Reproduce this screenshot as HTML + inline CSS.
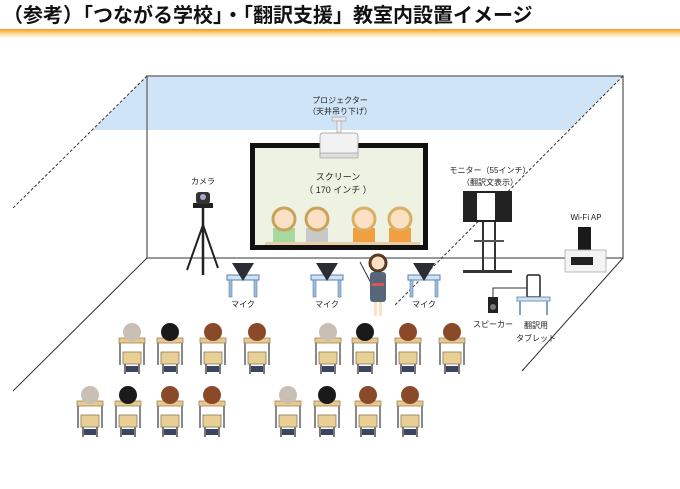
<!DOCTYPE html>
<html><head><meta charset="utf-8"><style>
html,body{margin:0;padding:0;background:#fff;}
body{width:680px;height:489px;overflow:hidden;position:relative;font-family:"Liberation Sans","Noto Sans CJK JP",sans-serif;}
</style></head><body>
<svg width="680" height="489" viewBox="0 0 680 489" xmlns="http://www.w3.org/2000/svg" style="position:absolute;left:0;top:0">
<defs>
<linearGradient id="og" x1="0" y1="0" x2="0" y2="1">
<stop offset="0" stop-color="#f39a1d"/><stop offset="0.35" stop-color="#f8c870"/><stop offset="1" stop-color="#fff"/>
</linearGradient>
<g id="st">
  <!-- chair back -->
  <rect x="-9" y="22" width="18" height="12" fill="#e8cf95" stroke="#8a7a5a" stroke-width="0.8"/>
  <rect x="-8" y="34" width="2" height="10" fill="#777"/><rect x="6" y="34" width="2" height="10" fill="#777"/>
  <!-- desk -->
  <rect x="-13" y="8" width="26" height="5" fill="#e9c98b" stroke="#9a8460" stroke-width="0.8"/>
  <rect x="-13" y="13" width="2" height="22" fill="#888"/><rect x="11" y="13" width="2" height="22" fill="#888"/>
  <rect x="-6" y="36" width="12" height="6" fill="#3a4660"/>
</g>
<g id="mdesk">
  <rect x="-16" y="0" width="32" height="5" fill="#cfe3f4" stroke="#5a7fa8" stroke-width="1"/>
  <rect x="-14" y="5" width="3" height="17" fill="#9bbde0" stroke="#5a7fa8" stroke-width="0.6"/>
  <rect x="11" y="5" width="3" height="17" fill="#9bbde0" stroke="#5a7fa8" stroke-width="0.6"/>
  <polygon points="-11,-12 11,-12 0,6" fill="#2a2d33"/>
</g>
</defs>

<!-- title -->
<text x="3" y="22" font-size="20" font-weight="bold" fill="#111">（参考）「つながる学校」・「翻訳支援」教室内設置イメージ</text>
<rect x="0" y="29" width="680" height="9" fill="url(#og)"/>

<!-- ceiling blue -->
<polygon points="147,76 623,76 623,76 569,130 93,130" fill="#cfe4f7"/>
<!-- back wall -->
<rect x="147" y="76" width="476" height="182" fill="none" stroke="#777" stroke-width="1.5"/>
<line x1="147" y1="130" x2="623" y2="130" stroke="#cfe4f7" stroke-width="0"/>
<!-- perspective lines -->
<line x1="147" y1="76" x2="12" y2="209" stroke="#333" stroke-width="1" stroke-dasharray="3,2"/>
<line x1="147" y1="258" x2="13" y2="391" stroke="#333" stroke-width="1"/>
<line x1="623" y1="76" x2="395" y2="305" stroke="#333" stroke-width="1" stroke-dasharray="3,2"/>
<line x1="623" y1="258" x2="522" y2="371" stroke="#333" stroke-width="1"/>

<!-- projector -->
<text x="340" y="103" font-size="8" text-anchor="middle" fill="#222">プロジェクター</text>
<text x="340" y="114" font-size="8" text-anchor="middle" fill="#222">（天井吊り下げ）</text>
<rect x="332" y="117" width="14" height="4" fill="#e8e8e8" stroke="#999" stroke-width="0.6"/>
<rect x="337" y="121" width="4" height="12" fill="#eee" stroke="#999" stroke-width="0.6"/>

<!-- screen -->
<rect x="250" y="143" width="178" height="107" fill="#111"/>
<rect x="255" y="148" width="168" height="97" fill="#eef2e3"/>
<rect x="320" y="133" width="38" height="24" rx="3" fill="#f2f2f2" stroke="#999" stroke-width="0.8"/>
<rect x="320" y="153" width="38" height="5" fill="#ddd" stroke="#999" stroke-width="0.6"/>
<text x="338" y="180" font-size="9" text-anchor="middle" fill="#222">スクリーン</text>
<text x="338" y="193" font-size="9" text-anchor="middle" fill="#222">（ 170 インチ ）</text>
<!-- kids on screen -->
<g>
  <rect x="273" y="228" width="22" height="14" fill="#a8d8a0"/><circle cx="284" cy="219" r="11" fill="#fbe0c6" stroke="#c9a35a" stroke-width="3"/>
  <rect x="306" y="228" width="22" height="14" fill="#c8c8c8"/><circle cx="317" cy="219" r="11" fill="#fbe0c6" stroke="#c9a35a" stroke-width="3"/>
  <rect x="353" y="228" width="22" height="14" fill="#f0a040"/><circle cx="364" cy="219" r="11" fill="#fbe0c6" stroke="#d8b060" stroke-width="3"/>
  <rect x="389" y="228" width="22" height="14" fill="#f0a040"/><circle cx="400" cy="219" r="11" fill="#fbe0c6" stroke="#d8b060" stroke-width="3"/>
  <rect x="265" y="242" width="155" height="3" fill="#e6cfa8"/>
</g>

<!-- camera -->
<text x="203" y="184" font-size="8" text-anchor="middle" fill="#222">カメラ</text>
<rect x="193" y="203" width="20" height="5" fill="#222"/>
<rect x="196" y="192" width="14" height="12" rx="3" fill="#333"/><circle cx="203" cy="197" r="3" fill="#aac"/>
<line x1="203" y1="208" x2="203" y2="275" stroke="#222" stroke-width="2.5"/>
<line x1="203" y1="225" x2="187" y2="270" stroke="#222" stroke-width="2"/>
<line x1="203" y1="225" x2="218" y2="268" stroke="#222" stroke-width="2"/>

<!-- mics -->
<use href="#mdesk" x="243" y="275"/><use href="#mdesk" x="327" y="275"/><use href="#mdesk" x="424" y="275"/>
<text x="243" y="307" font-size="8" text-anchor="middle" fill="#222">マイク</text>
<text x="327" y="307" font-size="8" text-anchor="middle" fill="#222">マイク</text>
<text x="424" y="307" font-size="8" text-anchor="middle" fill="#222">マイク</text>

<!-- teacher -->
<line x1="360" y1="262" x2="372" y2="285" stroke="#333" stroke-width="1"/>
<circle cx="378" cy="263" r="8" fill="#fbe0c6" stroke="#5a3a20" stroke-width="3"/>
<rect x="370" y="272" width="16" height="30" rx="3" fill="#55667a"/>
<rect x="372" y="283" width="12" height="3" fill="#d55"/>
<rect x="374" y="302" width="3" height="14" fill="#fbe0c6"/><rect x="379" y="302" width="3" height="14" fill="#fbe0c6"/>

<!-- monitor -->
<text x="490" y="173" font-size="8" text-anchor="middle" fill="#222">モニター（55インチ）</text>
<text x="490" y="185" font-size="8" text-anchor="middle" fill="#222">（翻訳文表示）</text>
<rect x="463" y="191" width="49" height="31" fill="#222"/>
<rect x="477" y="193" width="18" height="27" fill="#fff"/>
<rect x="482" y="222" width="2" height="50" fill="#333"/><rect x="494" y="222" width="2" height="50" fill="#333"/>
<rect x="474" y="240" width="30" height="2" fill="#555"/>
<rect x="463" y="270" width="49" height="3" fill="#333"/>

<!-- wifi -->
<text x="586" y="220" font-size="8" text-anchor="middle" fill="#222">Wi-Fi AP</text>
<rect x="578" y="227" width="13" height="23" fill="#1a1a1a"/>
<rect x="565" y="250" width="41" height="22" fill="#f4f4f4" stroke="#aaa" stroke-width="0.8"/>
<rect x="571" y="257" width="22" height="8" fill="#222"/>

<!-- speaker & tablet -->
<polyline points="493,297 493,288 528,288" fill="none" stroke="#333" stroke-width="1"/>
<rect x="488" y="297" width="10" height="16" fill="#222"/><circle cx="493" cy="307" r="3" fill="#777"/>
<rect x="527" y="275" width="13" height="22" rx="1.5" fill="#fff" stroke="#222" stroke-width="1.5"/>
<rect x="517" y="297" width="33" height="4" fill="#cfe3f4" stroke="#5a7fa8" stroke-width="0.8"/>
<rect x="519" y="301" width="2" height="14" fill="#7fa3c8"/><rect x="546" y="301" width="2" height="14" fill="#7fa3c8"/>
<text x="493" y="327" font-size="8" text-anchor="middle" fill="#222">スピーカー</text>
<text x="536" y="328" font-size="8" text-anchor="middle" fill="#222">翻訳用</text>
<text x="536" y="341" font-size="8" text-anchor="middle" fill="#222">タブレット</text>

<!-- students -->
<g id="row1">
<use href="#st" x="132" y="330"/><use href="#st" x="170" y="330"/><use href="#st" x="213" y="330"/><use href="#st" x="257" y="330"/>
<use href="#st" x="328" y="330"/><use href="#st" x="365" y="330"/><use href="#st" x="408" y="330"/><use href="#st" x="452" y="330"/>
<use href="#st" x="90" y="393"/><use href="#st" x="128" y="393"/><use href="#st" x="170" y="393"/><use href="#st" x="212" y="393"/>
<use href="#st" x="288" y="393"/><use href="#st" x="327" y="393"/><use href="#st" x="368" y="393"/><use href="#st" x="410" y="393"/>
</g>
<g>
<circle cx="132" cy="332" r="9" fill="#c9bfb4"/><circle cx="170" cy="332" r="9" fill="#1a1a1a"/><circle cx="213" cy="332" r="9" fill="#8a4a2a"/><circle cx="257" cy="332" r="9" fill="#8a4a2a"/>
<circle cx="328" cy="332" r="9" fill="#c9bfb4"/><circle cx="365" cy="332" r="9" fill="#1a1a1a"/><circle cx="408" cy="332" r="9" fill="#8a4a2a"/><circle cx="452" cy="332" r="9" fill="#8a4a2a"/>
<circle cx="90" cy="395" r="9" fill="#c9bfb4"/><circle cx="128" cy="395" r="9" fill="#1a1a1a"/><circle cx="170" cy="395" r="9" fill="#8a4a2a"/><circle cx="212" cy="395" r="9" fill="#8a4a2a"/>
<circle cx="288" cy="395" r="9" fill="#c9bfb4"/><circle cx="327" cy="395" r="9" fill="#1a1a1a"/><circle cx="368" cy="395" r="9" fill="#8a4a2a"/><circle cx="410" cy="395" r="9" fill="#8a4a2a"/>
</g>
</svg>
</body></html>
